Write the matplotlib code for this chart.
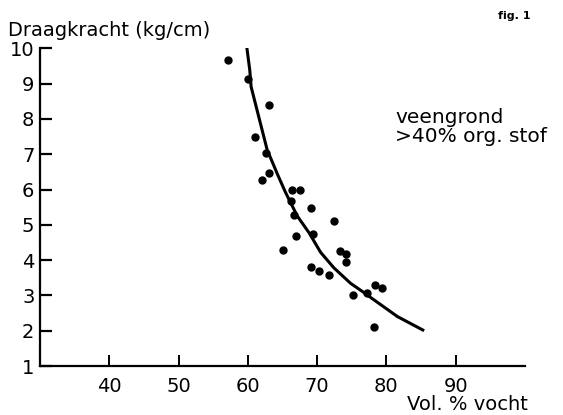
import matplotlib
matplotlib.use("Agg")
import matplotlib.pyplot as plt

# Measured points (Vol. % vocht, Draagkracht kg/cm)
vocht = [57.2, 60.0, 63.1, 61.0, 62.6, 63.1, 62.0, 66.3, 67.5, 66.2,
         69.1, 66.6, 72.5, 69.4, 67.0, 65.0, 73.3, 74.2, 74.1, 69.1,
         70.3, 71.7, 78.3, 79.3, 75.2, 77.2, 78.2]
draagkracht = [9.67, 9.14, 8.40, 7.49, 7.03, 6.48, 6.27, 6.00, 6.00, 5.67,
               5.47, 5.29, 5.12, 4.74, 4.69, 4.29, 4.26, 4.17, 3.96, 3.80,
               3.70, 3.58, 3.29, 3.21, 3.00, 3.08, 2.11]

# Fitted curve
curve_x = [59.84, 60.27, 60.47, 62.79, 63.27, 64.30, 65.43, 67.13, 68.81,
           69.30, 70.50, 72.42, 74.84, 76.76, 77.73, 81.59, 85.44]
curve_y = [10.04, 9.39, 8.91, 7.12, 6.90, 6.42, 5.92, 5.25, 4.78,
           4.62, 4.22, 3.78, 3.34, 3.08, 2.94, 2.40, 2.00]

xticks = [40, 50, 60, 70, 80, 90]
yticks = [1, 2, 3, 4, 5, 6, 7, 8, 9, 10]

W, H = 563, 415
fig = plt.figure(figsize=(W / 100, H / 100), dpi=100)
ax = fig.add_axes([40 / W, 1 - 366 / H, (525 - 40) / W, (366 - 48.3) / H])

ax.plot(curve_x, curve_y, color="black", lw=2.2, solid_capstyle="butt",
        solid_joinstyle="round")
ax.plot(vocht, draagkracht, "o", color="black", ms=5, mec="black")

ax.set_xlim(30, 100)
ax.set_ylim(1, 10)
ax.set_xticks(xticks)
ax.set_yticks(yticks)
ax.set_xticklabels([str(t) for t in xticks])
ax.set_yticklabels([str(t) for t in yticks])

for s in ["top", "right"]:
    ax.spines[s].set_visible(False)
for s in ["left", "bottom"]:
    ax.spines[s].set_linewidth(1.6)
    ax.spines[s].set_color("black")

ax.tick_params(axis="y", direction="in", length=8.5, width=1.6, pad=4,
               labelsize=14, colors="black")
ax.tick_params(axis="x", direction="in", length=8, width=1.4, pad=8,
               labelsize=14, colors="black")

fig.text(8 / W, 1 - 30 / H, "Draagkracht (kg/cm)", ha="left", va="center",
         fontsize=14)
fig.text(528 / W, 1 - 404 / H, "Vol. % vocht", ha="right", va="center",
         fontsize=14)
fig.text(514 / W, 1 - 16 / H, "fig. 1", ha="center", va="center",
         fontsize=8, fontweight="bold")
fig.text(395 / W, 1 - 117 / H, "veengrond", ha="left", va="center",
         fontsize=14.5)
fig.text(395 / W, 1 - 137 / H, ">40% org. stof", ha="left", va="center",
         fontsize=14.5)

fig.savefig("out.png", dpi=100)
